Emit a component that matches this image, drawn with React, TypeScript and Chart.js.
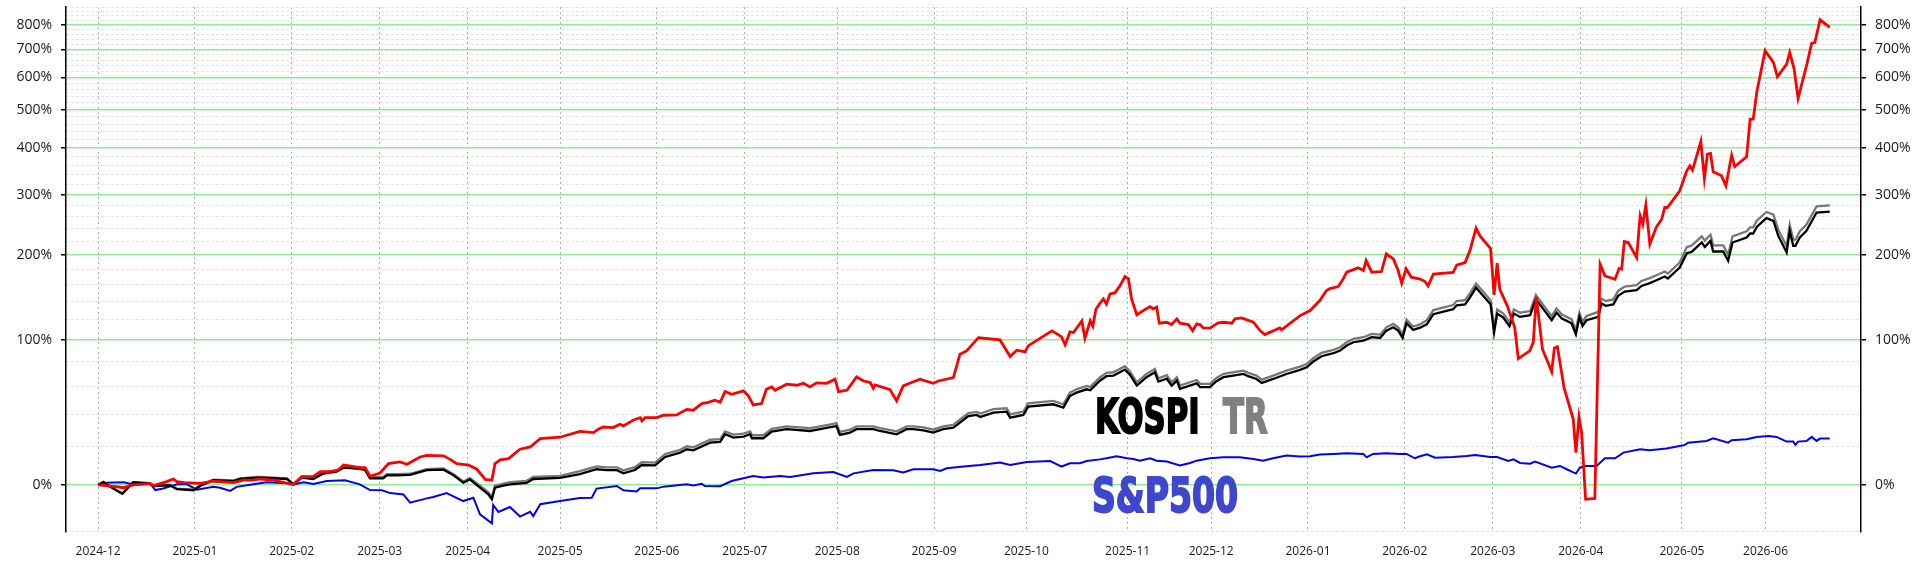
import React, { useEffect, useRef } from 'react';
import { Chart, ChartOptions, registerables } from 'chart.js';

Chart.register(...registerables);

// x = trading-session index (0 = first session of 2024-12)
const MONTH_IDX = [0, 22, 44, 64, 84, 105, 127, 147, 168, 190, 211, 234, 253, 275, 297, 317, 337, 360, 379];
const MONTH_LABELS = [
    '2024-12', '2025-01', '2025-02', '2025-03', '2025-04', '2025-05', '2025-06', '2025-07', '2025-08', '2025-09',
    '2025-10', '2025-11', '2025-12', '2026-01', '2026-02', '2026-03', '2026-04', '2026-05', '2026-06',
];

// y tick labels (cumulative return, %)
const Y_TICKS_PCT = [0, 100, 200, 300, 400, 500, 600, 700, 800];

// red line
const RED_X = [
    0, 4, 5.8, 8, 11.8, 12.6, 15.6, 17.1, 17.9, 19.6, 23.2, 26.2, 30.8, 33, 35.3, 36.8, 39.8, 44.4, 46.3, 48.9,
    50.5, 52.7, 54.6, 55.8, 59.5, 60.7, 61.8, 64.1, 66, 68.6, 70.2, 73.2, 74.7, 78.5, 80, 81.5, 84.2, 86.1, 88, 89.5,
    90.2, 91.4, 93.3, 95.9, 98.2, 100.5, 105, 109.5, 112.6, 113.7, 114.8, 117.1, 118.6, 119.4, 121.7, 123.2, 123.6, 124.3, 127, 128.5,
    131.5, 133.8, 135.3, 137.2, 138.7, 140.2, 141.4, 142.5, 144, 146.7, 147.8, 148.9, 150.8, 151.9, 153.1, 153.9, 156.5, 158.8, 160.3, 161.8,
    163.3, 165.6, 167.5, 168.3, 170.2, 172.4, 174, 175.5, 176.2, 176.6, 180, 181.5, 183, 184.9, 186.8, 189.8, 191, 194.4, 195.9, 197.4,
    200.1, 201.2, 205, 207.3, 208.8, 210.7, 211.4, 216.8, 219, 219.8, 220.9, 221.7, 223.6, 224.3, 225.5, 226.1, 226.8, 227.7, 228.5, 229.2,
    230, 231.1, 232.3, 233.4, 234.2, 234.9, 236.1, 237.6, 239.1, 239.8, 240.6, 241.2, 242.9, 244, 245.2, 245.9, 247.8, 248.8, 249.7, 250.5,
    251.2, 252.7, 254.6, 255.8, 257.7, 258.4, 259.9, 262.6, 264.1, 265.2, 268.6, 269, 273.2, 275.5, 277.7, 279.2, 280, 281.9, 283, 283.8,
    286.4, 287.6, 288.2, 289.5, 291.7, 292.8, 294.4, 295.5, 296.3, 297.3, 298.5, 300.5, 301.6, 302.3, 303.5, 308, 308.8, 310.7, 311.8, 313.2,
    314.1, 316.5, 317.3, 318, 318.6, 320.3, 322, 322.8, 325.4, 326.2, 326.9, 328.3, 330.4, 331, 331.7, 333.2, 335.3, 335.9, 336.6, 337.2,
    338.1, 340.2, 341.4, 342.5, 344.8, 345.7, 346.3, 346.9, 347.8, 349.7, 350.5, 351.1, 351.8, 352.7, 354.2, 355.4, 356.1, 356.7, 359.5, 361.1,
    361.8, 362.4, 364.3, 365.1, 365.8, 366.5, 367.1, 369, 370, 371.3, 372, 374.7, 375.5, 376.2, 377, 378.9, 380.8, 381.7, 383.8, 384.5,
    385.5, 386.4, 388.4, 389.5, 390.2, 391.4, 393.6,
];
const RED_PCT = [
    0, -0.8, -1.3, 0, 0.6, -0.3, 1.6, 2.9, 1.6, 1.1, 0.8, 1.8, 1.1, 2.3, 2.3, 2.9, 2.3, 0.2, 4.1, 4.1,
    6.6, 6.6, 7.4, 10, 8.6, 8.6, 4.2, 5.9, 10.7, 11.6, 10.4, 14.3, 15.2, 14.9, 13, 10.7, 10, 7.8, 2.7, 2.3,
    10.7, 12.7, 13.4, 18.6, 19.9, 24.8, 25.6, 29.2, 28.4, 30.5, 31.9, 31.5, 33.6, 32.6, 36.4, 37.9, 35.8, 37.9, 37.9, 39.5,
    39.7, 43.5, 42.9, 47.5, 48.4, 49.9, 48.4, 56.2, 54.2, 56.7, 53, 46.6, 47.5, 57.9, 59.7, 57.2, 61.8, 61, 62.5, 59.7,
    62.8, 62.5, 65.7, 56.2, 57.2, 67.5, 64.3, 63.1, 58.7, 61.2, 57.7, 49.4, 60.5, 63.1, 65.7, 62.5, 64.3, 67, 86.7, 89.7,
    102.1, 101.5, 99.9, 84.6, 90.3, 88.8, 94.3, 108.7, 102.8, 95.2, 107.7, 107.1, 118.9, 101.5, 118.9, 113.4, 131.5, 138, 143.2, 137.4,
    149, 150.2, 159.2, 170.6, 167.5, 143.2, 125.3, 130, 134.4, 131.8, 133.7, 116.5, 117.5, 115.1, 121, 116.5, 115.1, 109, 115.8, 114.8,
    111.7, 111.4, 116.8, 117.5, 116.5, 121, 122.1, 117.5, 109, 105.1, 111.7, 109.7, 124.5, 130, 141.2, 153, 155.5, 157.9, 167.5, 176.2,
    182, 178.4, 192, 176.2, 177.1, 201.5, 194.3, 178.4, 162.1, 180.6, 169.7, 167.3, 164.2, 158.7, 173.6, 175.8, 185.6, 189.2, 205.8, 240.8,
    228.5, 209.3, 147.9, 188.3, 154.6, 135.2, 112, 82.8, 89.7, 97.4, 145.5, 91.2, 71.8, 92.1, 93.4, 59.2, 36.8, 16.7, 38.4, 28.4,
    -6.6, -6.2, 187, 171.4, 167.1, 181.1, 180.3, 219.8, 218.3, 196.2, 261.5, 247.4, 281, 215.7, 243, 255.8, 276.2, 276.2, 307.4, 348.2,
    359, 349.6, 415.6, 332.1, 385.3, 386.9, 346.1, 337.6, 317.2, 383, 357.6, 379.2, 473.7, 473.7, 551.6, 695.1, 652, 602.3, 646.2, 688.8,
    628.4, 533.2, 646.2, 724.7, 727, 822, 789,
];

// KOSPI (black) and KOSPI TR (grey)
const KOSPI_X = [
    0, 1.2, 2.7, 5.5, 8, 11.8, 12.6, 16.4, 17.9, 21.7, 23.2, 26.2, 30.8, 32.3, 36.1, 36.8, 42.9, 44.4, 46.3, 48.9,
    51.2, 54.2, 55.8, 59.5, 60.7, 61.8, 64.8, 65.6, 67.9, 70.9, 74.7, 78.5, 80.8, 83, 84.5, 86.8, 88.7, 89.5, 90.2, 92.1,
    93.6, 97.4, 98.9, 105, 109.5, 113.3, 115.6, 117.9, 119.4, 122, 123.6, 126.6, 128.9, 132.3, 133.8, 135.3, 139.1, 141.4, 142.5, 144.4,
    146.7, 148.2, 148.6, 151.2, 153.1, 156.5, 161.8, 164.1, 167.1, 167.8, 168.6, 170.9, 172.4, 176.2, 177.7, 181.5, 183.8, 185.3, 187.6, 189.8,
    192.1, 194.4, 197.8, 199.7, 200.5, 203.5, 206.5, 207.3, 210.3, 211.4, 217.1, 219.4, 220.9, 222.4, 224.7, 225.5, 227.7, 229.2, 230.8, 233.4,
    234.5, 236.1, 238.3, 240.2, 241, 242.9, 244, 245.2, 245.9, 249.7, 250.5, 252.7, 254.2, 255.8, 258, 260.3, 261.4, 263.3, 264.5, 267.1,
    270.1, 273.2, 274.7, 276.2, 278.1, 280.8, 282.3, 283.8, 285.3, 287.6, 289.5, 291.4, 292.8, 294.4, 295.5, 296.5, 297.4, 298.9, 300.5, 302,
    303.5, 308, 308.8, 310.7, 311.8, 313.2, 314.5, 316.5, 317.3, 318, 319.4, 320.8, 321.8, 323.2, 325.5, 326.8, 328.5, 330.4, 331.5, 332.7,
    334.9, 335.9, 336.7, 337.4, 338.3, 341, 341.7, 342.7, 344.4, 345.5, 347, 349.7, 350.8, 352.7, 354.2, 356.1, 356.8, 359.5, 361.1, 362.2,
    364.5, 365.2, 366.5, 367.1, 369.4, 370.5, 371.5, 374.7, 375.5, 376.2, 377, 379.2, 380.8, 381.9, 383.8, 384.5, 385.3, 385.8, 386.8, 388.3,
    390.6, 393.6,
];
const KOSPI_PCT = [
    0, 1.4, -0.8, -4.1, 1.3, 0.6, -0.5, -0.2, -2, -2.5, -0.5, 2.3, 1.9, 2.9, 3.6, 3.6, 2.9, 0.2, 3.6, 2.9,
    5.6, 6.6, 8.6, 8, 7.3, 3.2, 3.2, 4.7, 4.7, 4.9, 7.3, 7.6, 4.7, 1.1, 2.7, -1.3, -4.4, -6.6, -1.3, -0.3,
    0.3, 1, 2.9, 3.4, 5.3, 7.8, 7.3, 7.3, 5.7, 7.4, 10, 9.8, 14.3, 16.7, 18.6, 18, 22.4, 22.8, 27.4, 25.4,
    26, 27.4, 25, 25, 29, 30.5, 29.4, 30.5, 32.1, 32.5, 27, 28.4, 30.5, 30.5, 29.4, 27.4, 30.5, 30.5, 29.8, 28.4,
    30.5, 31.5, 39, 39.7, 38.4, 41.3, 41.9, 37.9, 39.7, 45.4, 47, 44.7, 53, 55.4, 57.9, 57.2, 64.5, 68.1, 68.6, 73.5,
    69.4, 60.7, 67.3, 71.3, 63.8, 66.2, 60.7, 64.6, 58.2, 62.5, 59.5, 59.5, 64.1, 67.3, 68.6, 69.9, 68.1, 65.9, 62.8, 65.9,
    69.9, 73.2, 75.4, 80.3, 84.9, 87.6, 90, 94.6, 97.7, 99.3, 102.5, 101.8, 109, 112.4, 109, 101.8, 116.5, 109.7, 111.9, 115.4,
    126, 131.5, 135.9, 136.9, 144.7, 156.7, 148.6, 136.9, 107, 126.7, 122.4, 113.4, 126.7, 123.1, 124.9, 142.8, 131.5, 119.6, 127.8, 121.3,
    116.5, 105.4, 123.1, 113.7, 119.6, 123.1, 137.8, 135.2, 136.9, 146.7, 151.8, 153.5, 158.7, 162.2, 165.8, 170.6, 168, 182.4, 202.4, 204.4,
    218.3, 211.7, 220.8, 204.9, 204.9, 191.6, 218.3, 226, 232.3, 232.3, 243, 257.5, 253, 228.5, 203.4, 236.5, 213.2, 213.2, 226, 236.5,
    267.3, 269,
];
const KOSPI_TR_PCT = [
    0, 1.5, -0.7, -4, 1.4, 0.9, -0.2, 0.1, -1.7, -2.2, -0.2, 2.6, 2.2, 3.2, 3.9, 3.9, 3.2, 0.5, 4.2, 3.5,
    6.2, 7.2, 9.3, 8.6, 7.9, 3.8, 3.8, 5.3, 5.3, 5.5, 7.9, 8.2, 5.3, 1.7, 3.3, -0.3, -3.4, -5.7, -0.3, 0.7,
    1.3, 2, 3.9, 4.4, 6.8, 9.3, 8.8, 8.8, 7.2, 8.9, 11.5, 11.3, 15.9, 18.3, 20.3, 19.7, 24.1, 24.5, 29.2, 27.2,
    27.8, 29.2, 26.8, 26.8, 30.8, 32.3, 31.2, 32.3, 33.9, 34.4, 28.8, 30.2, 32.3, 32.3, 31.2, 29.2, 32.3, 32.3, 31.6, 30.2,
    32.3, 33.3, 40.9, 41.7, 40.6, 43.6, 44.2, 40.1, 41.9, 47.7, 49.4, 47, 55.4, 57.9, 60.4, 59.7, 67.1, 70.8, 71.3, 76.3,
    72.1, 63.3, 70, 74, 66.4, 68.9, 63.3, 67.2, 60.7, 65.1, 62.1, 62.1, 66.7, 70, 71.3, 72.6, 70.8, 68.6, 65.4, 68.6,
    72.6, 76, 78.2, 83.2, 87.9, 90.6, 93, 97.7, 100.9, 102.5, 105.7, 105, 112.3, 115.8, 112.3, 105, 120, 113.1, 115.3, 119.7,
    130.5, 136.1, 140.6, 141.6, 149.6, 161.8, 153.6, 141.6, 111.1, 131.2, 126.8, 117.7, 131.2, 127.6, 129.4, 147.7, 136.1, 124, 132.4, 125.7,
    120.8, 109.5, 127.6, 118, 124, 128.5, 143.5, 140.8, 142.6, 152.6, 157.8, 159.6, 164.9, 168.5, 172.2, 177.1, 174.4, 189.2, 211.5, 213.5,
    227.8, 221.1, 230.4, 214, 214, 200.3, 227.8, 235.8, 242.3, 242.3, 253.3, 268.2, 263.6, 238.4, 212.5, 246.6, 222.6, 222.6, 235.8, 246.6,
    278.3, 280.1,
];

// S&P500 (blue)
const SPX_X = [
    0, 2, 5.8, 7.3, 9.5, 11.8, 13, 14.8, 17.9, 20.2, 22.4, 26.2, 27.7, 30, 31.5, 35.3, 38.3, 42.9, 44.4, 46.7,
    48.9, 52, 56.1, 59.5, 61.8, 64.5, 66.4, 69.4, 70.9, 74.7, 76.2, 79.2, 83, 85.3, 86.8, 89.5, 89.8, 91, 93.6, 95.9,
    98.2, 98.9, 100.5, 105, 109.5, 112.2, 113.3, 117.9, 119.4, 122.4, 123.2, 127, 128.5, 133.8, 135.3, 137.2, 137.9, 141.4, 144, 147.4,
    148.9, 151.2, 155, 157.3, 162.6, 167.1, 170.2, 171.7, 176.2, 180.7, 183, 185.3, 189.8, 191.4, 192.9, 196.7, 200.5, 205, 207.3, 211.1,
    216.4, 219, 220.9, 223.2, 224.7, 227.7, 229.2, 231.5, 233.8, 235.3, 236.8, 239.1, 240.6, 242.9, 245.9, 248.2, 249.7, 252.7, 255.8, 259.5,
    262.6, 264.8, 267.1, 270.1, 273.2, 275.5, 277.7, 280.8, 283.8, 287.6, 288.3, 289.8, 292.8, 295.9, 297.4, 299.3, 300.5, 302, 303.9, 308,
    311.1, 313, 316.4, 318, 320.5, 321.7, 323.2, 325.5, 326.6, 330.4, 332.3, 333.8, 335.9, 336.8, 338, 340.6, 342.5, 344.8, 346.7, 350.5,
    352.7, 356.5, 359.5, 360.7, 361.4, 365.6, 367.1, 370.5, 371.3, 374.7, 377, 379.7, 381.5, 383.8, 385.3, 385.8, 386.4, 388.3, 389.5, 390.6,
    391.4, 393.6,
];
const SPX_PCT = [
    0, 1.1, 1.3, 0.6, 1, 0.8, -2.4, -1.7, 0.3, 0.3, -2.2, -0.8, -1.3, -2.8, -0.9, 0.3, 1.3, 0.8, 0.2, 1.3,
    0.5, 1.9, 2.3, 0.3, -2.4, -2.5, -3.8, -4.4, -8.1, -6.2, -5.6, -3.8, -7.4, -5.9, -13.1, -16.7, -9.1, -12.1, -10, -14,
    -12, -13.8, -8.8, -7.4, -6, -5.9, -1.7, -0.5, -2.5, -3.1, -1.6, -1.6, -0.8, 0.3, -0.2, 0.6, -0.5, -0.6, 1.9, 3.6,
    4.4, 3.6, 4.4, 3.9, 5.7, 6.4, 3.9, 5.7, 7.4, 7.3, 6.1, 7.8, 7.8, 6.9, 8.3, 9.2, 10, 11.3, 10, 11.6,
    12.1, 9.2, 10.9, 10.9, 12.1, 13, 13.6, 14.7, 13.6, 13.2, 12.3, 13.6, 12.3, 11.8, 9.7, 11.1, 12.3, 13.6, 14.1, 14.1,
    13.2, 12.3, 13.6, 15.1, 14.5, 14.7, 15.6, 16, 16.3, 16, 14.1, 16, 16.3, 16, 16, 13.6, 14.7, 15.8, 13.9, 14.3,
    14.9, 15.4, 14.3, 14.3, 12.1, 13, 11.1, 10.7, 11.8, 8.6, 9.5, 7.8, 5.6, 8.6, 9.5, 9.5, 13.6, 13.6, 16.7, 18.6,
    18.1, 19, 20.5, 21.1, 22.4, 23.4, 25, 22.4, 23.8, 24.4, 25.8, 26.4, 25.8, 23, 23, 21.1, 23, 23.4, 25.8, 23.4,
    24.8, 24.8,
];

// text labels placed in chart coordinates
const SERIES_LABELS = [
    { text: 'KOSPI', color: '#000000', x: 226.6, pct: 28.2, squeeze: 0.64 },
    { text: 'TR', color: '#808080', x: 255.7, pct: 28.2, squeeze: 0.64 },
    { text: 'S&P500', color: '#3f48cc', x: 225.9, pct: -12.1, squeeze: 0.69 },
];

const X_MIN = -7.3;
const X_MAX = 400.7;
const Y_MIN = 0.8;
const Y_MAX = 9.8;

const toLevel = (pct: number) => 1 + pct / 100;
const toPoints = (xs: number[], pcts: number[]) => xs.map((x, i) => ({ x, y: toLevel(pcts[i]) }));

const minorLevels: number[] = [];
for (let p = -20; p <= 880; p += 20) {
    if (p % 100 !== 0) minorLevels.push(toLevel(p));
}

const labelPlugin = {
    id: 'seriesLabels',
    beforeDatasetsDraw(chart: Chart) {
        const { ctx } = chart;
        const xs = chart.scales.x;
        const ys = chart.scales.y;
        SERIES_LABELS.forEach((l) => {
            ctx.save();
            ctx.translate(xs.getPixelForValue(l.x), ys.getPixelForValue(toLevel(l.pct)));
            ctx.scale(l.squeeze, 1);
            ctx.font = 'bold 48px "DejaVu Sans"';
            ctx.fillStyle = l.color;
            ctx.strokeStyle = l.color;
            ctx.lineWidth = 2;
            ctx.lineJoin = 'miter';
            ctx.textBaseline = 'alphabetic';
            ctx.textAlign = 'left';
            ctx.fillText(l.text, 0, 0);
            ctx.strokeText(l.text, 0, 0);
            ctx.restore();
        });
    },
};

const tickFont = { family: '"Open Sans"', size: 14 };

const logAxis = (position: 'left' | 'right', width: number) => ({
    type: 'logarithmic',
    position,
    min: Y_MIN,
    max: Y_MAX,
    bounds: 'data',
    afterBuildTicks: (s: any) => {
        s.ticks = Y_TICKS_PCT.map((p) => ({ value: toLevel(p) }));
    },
    afterFit: (s: any) => {
        s.width = width;
        s.paddingTop = 0;
        s.paddingBottom = 0;
    },
    ticks: {
        callback: (v: number) => `${Math.round((v - 1) * 100)}%`,
        padding: 9,
        font: tickFont,
        color: '#1a1a1a',
    },
    grid: {
        color: '#90ee90',
        lineWidth: 1.5,
        drawOnChartArea: position === 'left',
        tickColor: '#000000',
        tickLength: 5,
        tickWidth: 1.5,
    },
    border: { color: '#000000', width: 1.5 },
});

const App: React.FC = () => {
    const chartRef = useRef<HTMLCanvasElement | null>(null);

    useEffect(() => {
        if (!chartRef.current) return;

        const chart = new Chart(chartRef.current, {
            type: 'line',
            data: {
                datasets: [
                    {
                        label: 'KOSPI TR',
                        data: toPoints(KOSPI_X, KOSPI_TR_PCT),
                        borderColor: '#777777',
                        borderWidth: 2.3,
                        order: 2,
                    },
                    {
                        label: 'KOSPI',
                        data: toPoints(KOSPI_X, KOSPI_PCT),
                        borderColor: '#000000',
                        borderWidth: 2.3,
                        order: 1,
                    },
                    {
                        label: 'S&P500',
                        data: toPoints(SPX_X, SPX_PCT),
                        borderColor: '#0000ff',
                        borderWidth: 2,
                        order: 3,
                    },
                    {
                        label: 'Red',
                        data: toPoints(RED_X, RED_PCT),
                        borderColor: '#ff0000',
                        borderWidth: 2.8,
                        order: 0,
                    },
                ],
            },
            options: {
                animation: false,
                responsive: false,
                devicePixelRatio: 1,
                layout: { padding: { top: 7, left: 0, right: 0, bottom: 0 } },
                elements: {
                    point: { radius: 0 },
                    line: { tension: 0, fill: false },
                },
                plugins: {
                    legend: { display: false },
                    tooltip: { enabled: false },
                },
                scales: {
                    x: {
                        type: 'linear',
                        min: X_MIN,
                        max: X_MAX,
                        bounds: 'data',
                        afterBuildTicks: (s: any) => {
                            s.ticks = MONTH_IDX.map((v) => ({ value: v }));
                        },
                        afterFit: (s: any) => {
                            s.height = 48.3;
                            s.paddingLeft = 0;
                            s.paddingRight = 0;
                        },
                        ticks: {
                            callback: (_v: number, i: number) => MONTH_LABELS[i],
                            autoSkip: false,
                            maxRotation: 0,
                            padding: 13,
                            font: { family: '"Open Sans"', size: 12 },
                            color: '#1a1a1a',
                        },
                        grid: { color: '#b0b0b0', lineWidth: 1, drawTicks: false, borderDash: [2, 3] },
                        border: { display: false, dash: [2, 3] },
                    },
                    yMinor: {
                        type: 'logarithmic',
                        position: 'left',
                        min: Y_MIN,
                        max: Y_MAX,
                        bounds: 'data',
                        afterBuildTicks: (s: any) => {
                            s.ticks = minorLevels.map((v) => ({ value: v }));
                        },
                        afterFit: (s: any) => {
                            s.width = 0;
                            s.paddingTop = 0;
                            s.paddingBottom = 0;
                        },
                        ticks: { display: false },
                        grid: { color: '#e4e4e4', lineWidth: 1, drawTicks: false, borderDash: [3, 2] },
                        border: { display: false, dash: [3, 2] },
                    },
                    y: logAxis('left', 66),
                    y2: logAxis('right', 59),
                },
            } as ChartOptions,
            plugins: [labelPlugin],
        });

        return () => {
            chart.destroy();
        };
    }, []);

    return (
        <div style={{ position: 'fixed', left: 0, top: 0, width: 1920, height: 580, background: '#ffffff' }}>
            <canvas ref={chartRef} width={1920} height={580} style={{ display: 'block' }} />
        </div>
    );
};

export default App;
